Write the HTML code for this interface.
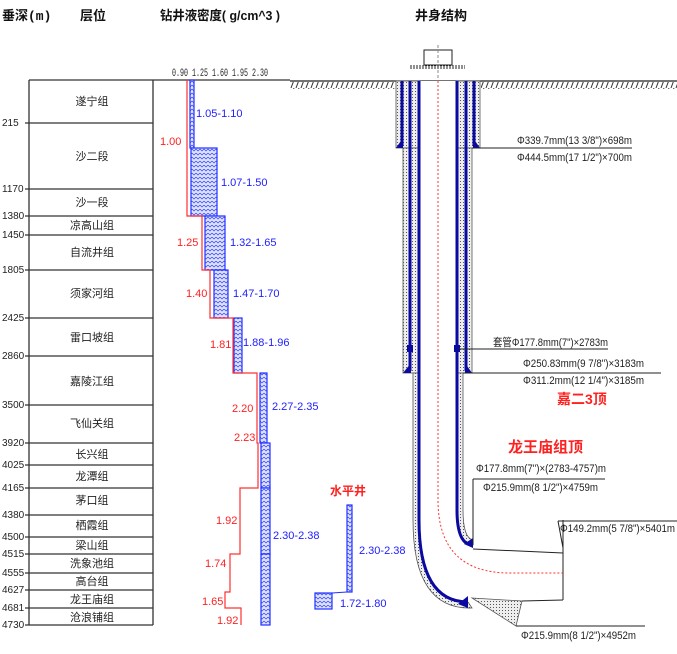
<!DOCTYPE html>
<html><head><meta charset="utf-8"><style>
html,body{margin:0;padding:0;background:#fff;}
svg{display:block}
text{font-family:"Liberation Sans","Noto Sans CJK SC",sans-serif;}
.n{font-family:"Liberation Mono","Noto Sans CJK SC",monospace;font-size:11px;}
.b{fill:#2020ff}.r{fill:#ff2020}
.f{font-size:11px;fill:#222;text-anchor:middle}
.d{font-size:10px;fill:#222}
</style></head><body>
<svg width="677" height="654" viewBox="0 0 677 654" xmlns="http://www.w3.org/2000/svg">
<defs>
<pattern id="hb" width="4" height="4" patternUnits="userSpaceOnUse">
<rect width="4" height="4" fill="#dfe3ff"/><path d="M0,1 L2,3 L4,1" stroke="#3040ff" stroke-width="0.7" fill="none"/>
</pattern>
<pattern id="dot" width="3" height="3" patternUnits="userSpaceOnUse">
<rect width="3" height="3" fill="#eeeeee"/><rect x="1" y="1" width="1" height="1" fill="#555"/>
</pattern>
<pattern id="gh" width="5" height="8" patternUnits="userSpaceOnUse">
<path d="M4,0 L1,8" stroke="#333" stroke-width="1"/>
</pattern>
</defs>

<!-- headers -->
<g font-weight="bold" font-size="13" fill="#111">
<text x="2" y="20" style="font-family:'Liberation Mono','Noto Sans CJK SC',monospace">垂深(m)</text>
<text x="80" y="20">层位</text>
<text x="160" y="20" textLength="120" lengthAdjust="spacingAndGlyphs">钻井液密度( g/cm^3 )</text>
<text x="415" y="20">井身结构</text>
</g>

<!-- depth column -->
<g stroke="#333" stroke-width="1.3">
<line x1="29" y1="80" x2="290" y2="80"/>
<line x1="29" y1="80" x2="29" y2="625"/>
<line x1="153" y1="80" x2="153" y2="625"/>
<line x1="25" y1="123" x2="153" y2="123"/>
<line x1="25" y1="189" x2="153" y2="189"/>
<line x1="25" y1="216" x2="153" y2="216"/>
<line x1="25" y1="235" x2="153" y2="235"/>
<line x1="25" y1="270" x2="153" y2="270"/>
<line x1="25" y1="318" x2="153" y2="318"/>
<line x1="25" y1="356" x2="153" y2="356"/>
<line x1="25" y1="405" x2="153" y2="405"/>
<line x1="25" y1="443" x2="153" y2="443"/>
<line x1="25" y1="465" x2="153" y2="465"/>
<line x1="25" y1="488" x2="153" y2="488"/>
<line x1="25" y1="515" x2="153" y2="515"/>
<line x1="25" y1="537" x2="153" y2="537"/>
<line x1="25" y1="554" x2="153" y2="554"/>
<line x1="25" y1="573" x2="153" y2="573"/>
<line x1="25" y1="590" x2="153" y2="590"/>
<line x1="25" y1="608" x2="153" y2="608"/>
<line x1="25" y1="625" x2="153" y2="625"/>
</g>
<g class="d">
<text x="2" y="126">215</text><text x="2" y="192">1170</text><text x="2" y="219">1380</text>
<text x="2" y="238">1450</text><text x="2" y="273">1805</text><text x="2" y="321">2425</text>
<text x="2" y="359">2860</text><text x="2" y="408">3500</text><text x="2" y="446">3920</text>
<text x="2" y="468">4025</text><text x="2" y="491">4165</text><text x="2" y="518">4380</text>
<text x="2" y="540">4500</text><text x="2" y="557">4515</text><text x="2" y="576">4555</text>
<text x="2" y="593">4627</text><text x="2" y="611">4681</text><text x="2" y="628">4730</text>
</g>
<g class="f">
<text x="92" y="105">遂宁组</text><text x="92" y="160">沙二段</text><text x="92" y="206">沙一段</text>
<text x="92" y="229">凉高山组</text><text x="92" y="256">自流井组</text><text x="92" y="297">须家河组</text>
<text x="92" y="341">雷口坡组</text><text x="92" y="385">嘉陵江组</text><text x="92" y="427">飞仙关组</text>
<text x="92" y="458">长兴组</text><text x="92" y="480">龙潭组</text><text x="92" y="504">茅口组</text>
<text x="92" y="529">栖霞组</text><text x="92" y="549">梁山组</text><text x="92" y="567">洗象池组</text>
<text x="92" y="585">高台组</text><text x="92" y="603">龙王庙组</text><text x="92" y="621">沧浪铺组</text>
</g>

<!-- density axis -->
<text class="n" x="172" y="76" font-size="11" textLength="96" lengthAdjust="spacingAndGlyphs" fill="#222">0.90 1.25 1.60 1.95 2.30</text>

<!-- blue boxes -->
<g fill="url(#hb)" stroke="#2030ff" stroke-width="1.2">
<rect x="190" y="80" width="4" height="68"/>
<rect x="191" y="148" width="26" height="68"/>
<rect x="205" y="216" width="20" height="54"/>
<rect x="214" y="270" width="14" height="48"/>
<rect x="234" y="318" width="8" height="55"/>
<rect x="260" y="373" width="7" height="70"/>
<rect x="261" y="443" width="9" height="45"/>
<rect x="261" y="488" width="9" height="66"/>
<rect x="261" y="554" width="9" height="71"/>
<rect x="347" y="505" width="5" height="87"/>
<rect x="315" y="593" width="17" height="16"/>
</g>
<line x1="332" y1="593" x2="347" y2="592" stroke="#2030ff"/>
<!-- red line -->
<polyline fill="none" stroke="#ff3030" stroke-width="1.2" points="187,80 187,216 202,216 202,270 210,270 210,318 233,318 233,373 257,373 257,443 258,443 258,488 240,488 240,554 230,554 230,592 225,592 225,608 241,608 241,625"/>

<g class="n b">
<text x="196" y="117">1.05-1.10</text><text x="221" y="186">1.07-1.50</text>
<text x="230" y="246">1.32-1.65</text><text x="233" y="297">1.47-1.70</text>
<text x="243" y="346">1.88-1.96</text><text x="272" y="410">2.27-2.35</text>
<text x="273" y="539">2.30-2.38</text><text x="359" y="554">2.30-2.38</text>
<text x="340" y="607">1.72-1.80</text>
</g>
<g class="n r">
<text x="160" y="145">1.00</text><text x="177" y="246">1.25</text><text x="186" y="297">1.40</text>
<text x="210" y="348">1.81</text><text x="232" y="412">2.20</text><text x="234" y="441">2.23</text>
<text x="216" y="524">1.92</text><text x="205" y="567">1.74</text><text x="202" y="605">1.65</text>
<text x="217" y="624">1.92</text>
</g>
<text x="330" y="495" font-size="12" font-weight="bold" fill="#ff2020">水平井</text>

<!-- ground -->
<rect x="290" y="82" width="105" height="7" fill="url(#gh)"/>
<rect x="481" y="82" width="196" height="7" fill="url(#gh)"/>
<line x1="290" y1="81" x2="677" y2="81" stroke="#222" stroke-width="1.2"/>
<!-- wellhead -->
<rect x="424" y="50" width="28" height="15" fill="none" stroke="#222"/>
<line x1="410" y1="66" x2="465" y2="66" stroke="#222" stroke-dasharray="2,1"/>
<line x1="410" y1="68" x2="465" y2="68" stroke="#222" stroke-dasharray="2,1"/>
<line x1="438" y1="45" x2="438" y2="81" stroke="#888" stroke-dasharray="3,2"/>

<!-- cement -->
<g fill="url(#dot)" stroke="#555" stroke-width="0.8">
<rect x="396" y="81" width="23" height="67"/>
<rect x="457" y="81" width="23" height="67"/>
<rect x="403" y="148" width="16" height="225"/>
<rect x="457" y="148" width="15" height="225"/>
<path d="M413,373 L419,373 L419,520 Q419,602 468,602 L472,608 Q413,610 413,520 Z"/>
<path d="M457,373 L463,373 L463,510 Q463,538 473,540 L473,545 Q457,545 457,510 Z"/>
<path d="M472,598 L522,601 L516,626 Z"/>
</g>
<rect x="420" y="81" width="36" height="440" fill="#fff"/>
<!-- casings -->
<g stroke="#0a0aa0" stroke-width="3" fill="none">
<line x1="402" y1="81" x2="402" y2="146"/>
<line x1="474" y1="81" x2="474" y2="146"/>
<line x1="410" y1="81" x2="410" y2="371"/>
<line x1="466" y1="81" x2="466" y2="371"/>
<path d="M419,81 L419,520 Q419,602 468,602"/>
<path d="M457,81 L457,510 Q457,545 473,545"/>
</g>
<g fill="#0a0aa0">
<path d="M396,148 L403,148 L403,138 Z"/><path d="M480,148 L473,148 L473,138 Z"/>
<path d="M403,373 L411,373 L411,363 Z"/><path d="M472,373 L465,373 L465,363 Z"/>
<path d="M468,596 L468,608 L458,604 Z"/><path d="M473,538 L473,548 L464,544 Z"/>
<rect x="407" y="345" width="6" height="7"/><rect x="454" y="345" width="6" height="7"/>
</g>
<!-- hole walls / horizontal -->
<g stroke="#222" stroke-width="1" fill="none">
<path d="M473,549 L563,553"/>
<path d="M522,601 L563,600"/>
<path d="M563,520 L563,600"/>
<path d="M558,521 L563,548"/>
<line x1="472" y1="148" x2="632" y2="148"/>
<line x1="458" y1="349" x2="608" y2="349"/>
<line x1="463" y1="373" x2="661" y2="373"/>
<line x1="473" y1="479" x2="605" y2="479"/>
<line x1="473" y1="479" x2="473" y2="545"/>
<line x1="558" y1="521" x2="677" y2="521"/>
<line x1="516" y1="626" x2="645" y2="626"/>
</g>
<path d="M438,81 L438,500 Q438,573 510,573 L563,573" stroke="#ff3030" stroke-width="1" fill="none" stroke-dasharray="2,2"/>

<g class="n" font-size="10" fill="#222">
<text x="517" y="144" textLength="115" lengthAdjust="spacingAndGlyphs">Φ339.7mm(13 3/8")×698m</text>
<text x="517" y="161" textLength="115" lengthAdjust="spacingAndGlyphs">Φ444.5mm(17 1/2")×700m</text>
<text x="493" y="346" textLength="115" lengthAdjust="spacingAndGlyphs">套管Φ177.8mm(7")×2783m</text>
<text x="523" y="367" textLength="121" lengthAdjust="spacingAndGlyphs">Φ250.83mm(9 7/8")×3183m</text>
<text x="523" y="384" textLength="121" lengthAdjust="spacingAndGlyphs">Φ311.2mm(12 1/4")×3185m</text>
<text x="476" y="472" textLength="130" lengthAdjust="spacingAndGlyphs">Φ177.8mm(7")×(2783-4757)m</text>
<text x="483" y="491" textLength="115" lengthAdjust="spacingAndGlyphs">Φ215.9mm(8 1/2")×4759m</text>
<text x="560" y="532" textLength="115" lengthAdjust="spacingAndGlyphs">Φ149.2mm(5 7/8")×5401m</text>
<text x="521" y="639" textLength="115" lengthAdjust="spacingAndGlyphs">Φ215.9mm(8 1/2")×4952m</text>
</g>
<text x="557" y="404" font-size="14" font-weight="bold" fill="#ff2020">嘉二3顶</text>
<text x="508" y="452" font-size="15" font-weight="bold" fill="#ff2020">龙王庙组顶</text>
</svg>
</body></html>
